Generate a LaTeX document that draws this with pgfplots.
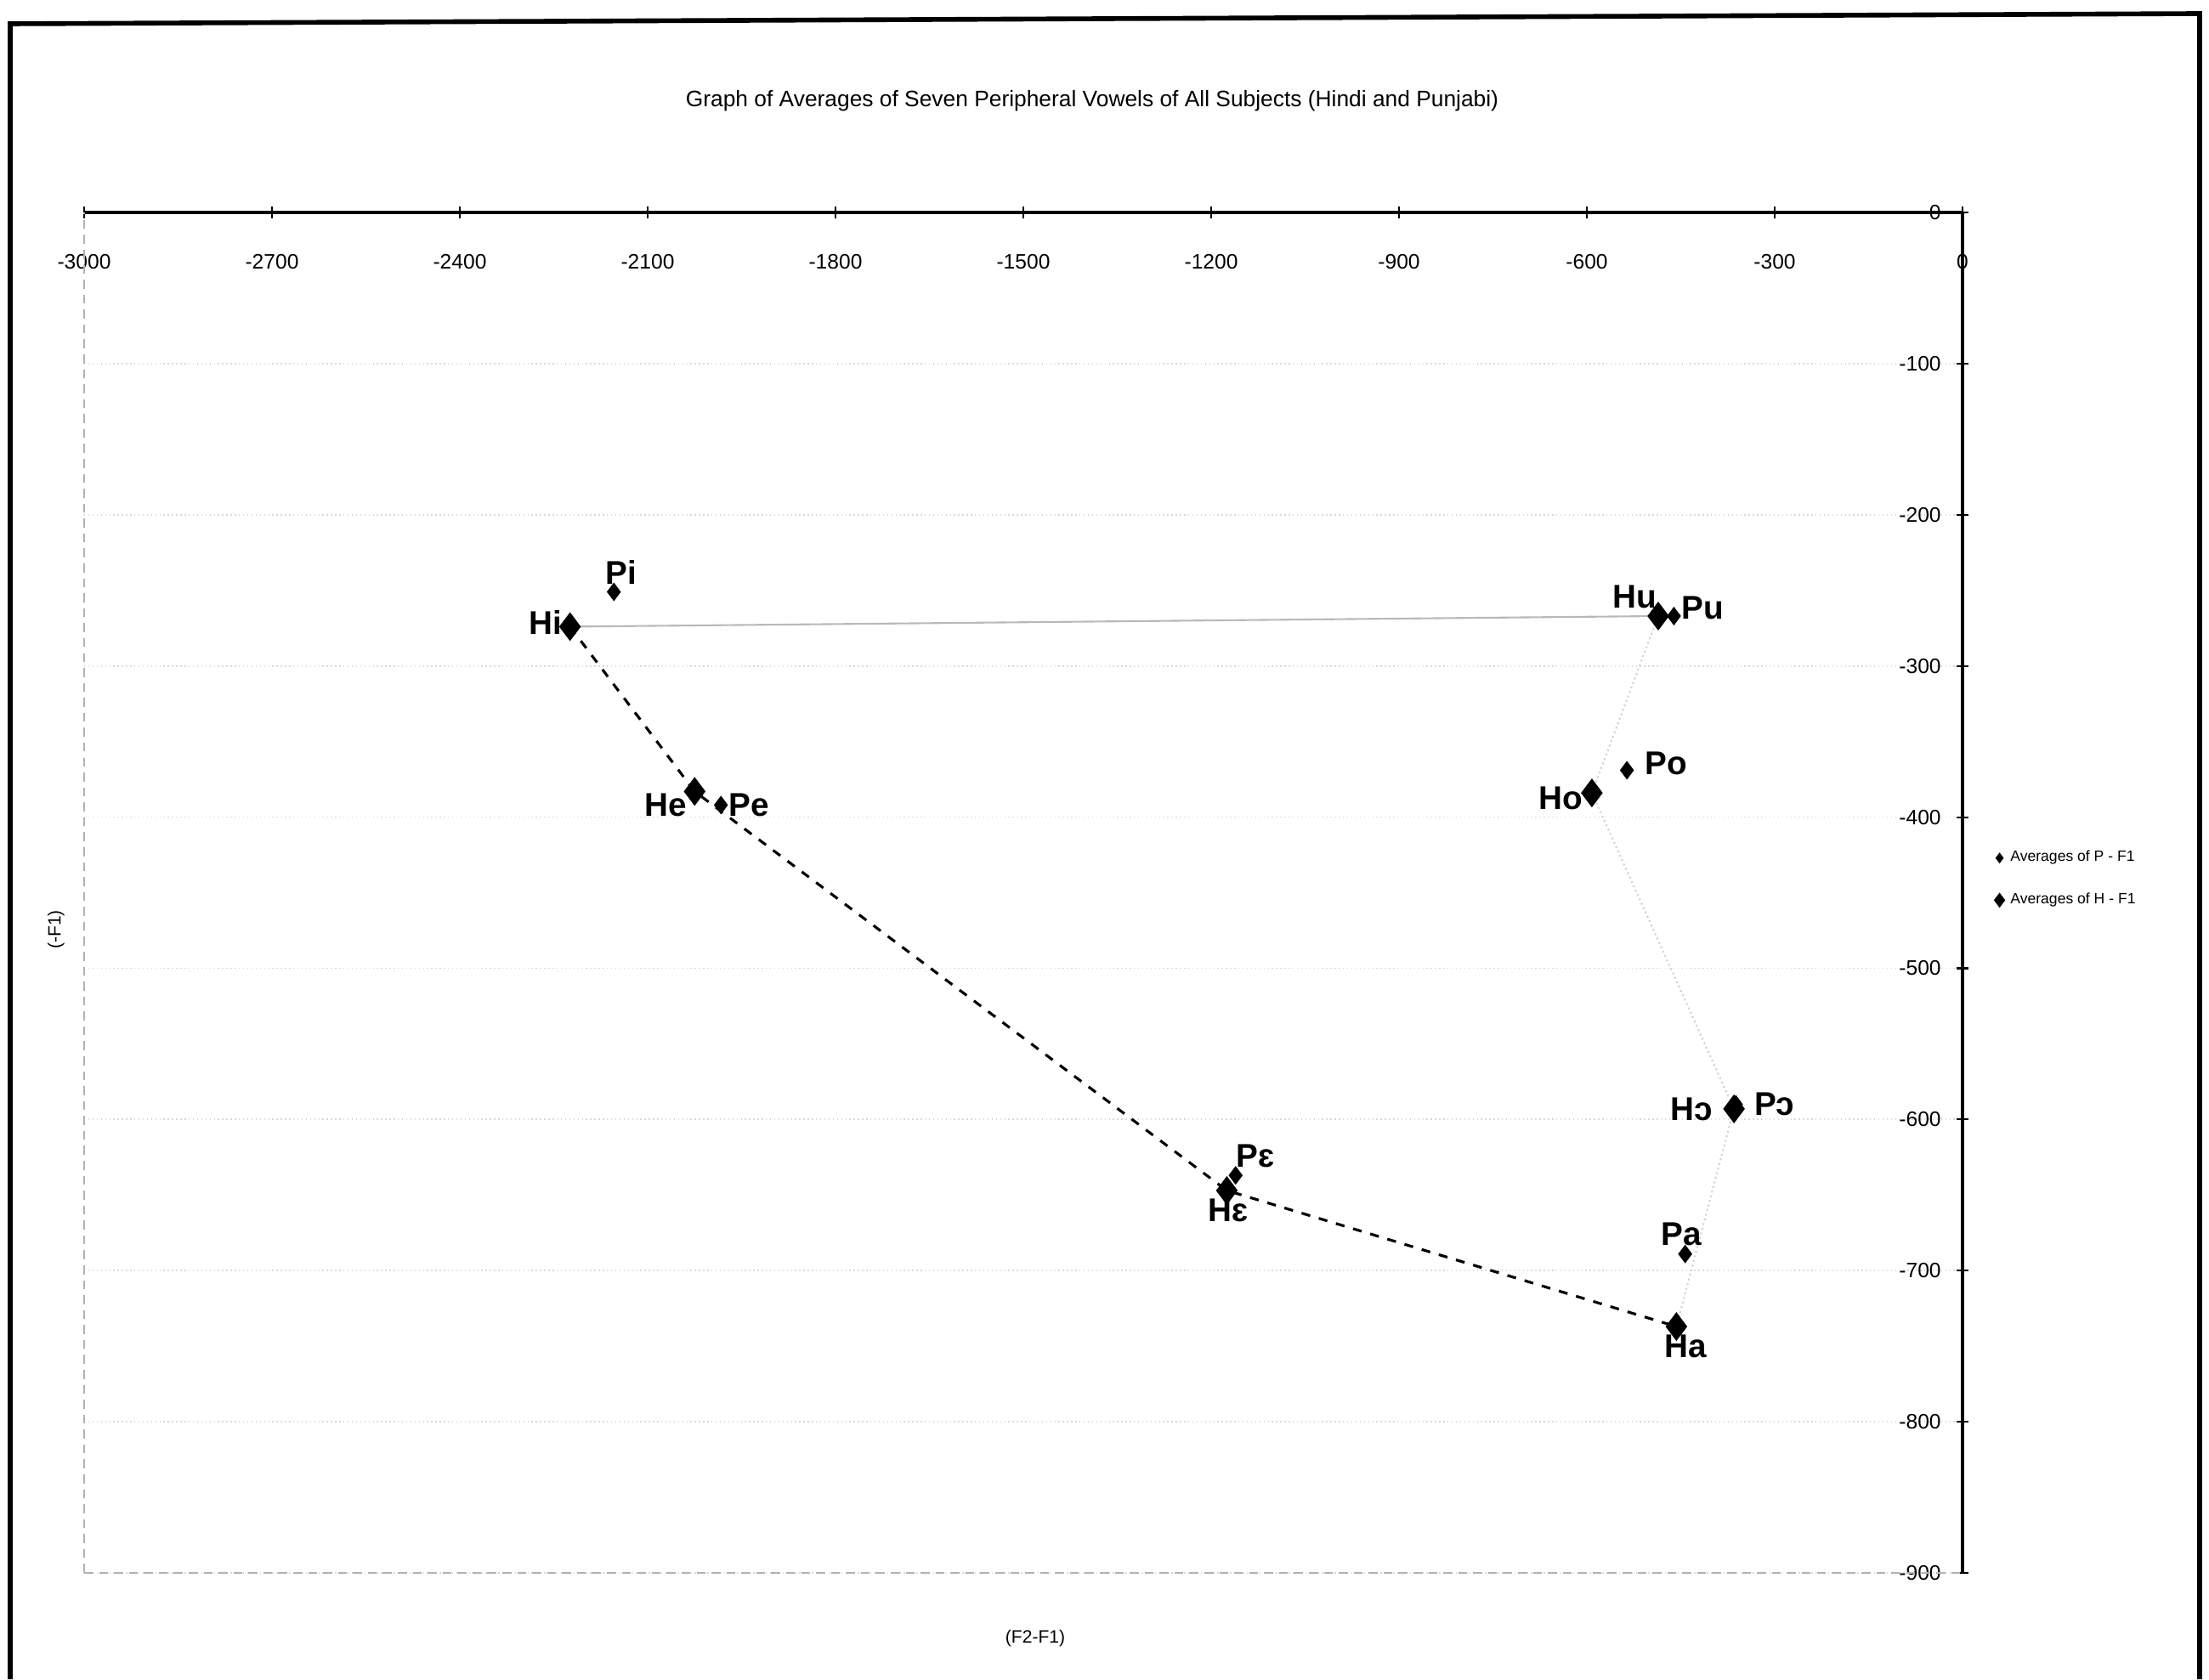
\documentclass[border=0pt]{standalone}
\usepackage{fontspec}
\setmainfont{Liberation Sans}
\usepackage{pgfplots}
\pgfplotsset{compat=1.18}
\begin{document}
\begin{tikzpicture}[x=1cm,y=1cm]
\path[use as bounding box] (0,0) rectangle (25.99,19.76);
\draw[line width=1.6pt] (0.12,0) -- (0.12,19.48) -- (25.88,19.60) -- (25.88,0);
\begin{axis}[
  at={(0.99cm,1.25cm)}, anchor=south west,
  width=22.1cm, height=16.01cm, scale only axis,
  xmin=-3000, xmax=0, ymin=-900, ymax=0,
  axis x line*=top, axis y line*=right,
  axis line style={-, line width=1pt},
  xtick={-3000,-2700,...,0}, ytick={-900,-800,...,0},
  /pgf/number format/1000 sep={},
  /pgf/number format/assume math mode=true,
  tick style={black, line width=0.6pt},
  major tick length=4pt,
  tick align=center,
  xticklabel style={anchor=center, yshift=-0.65cm, font=\fontsize{7}{8}\selectfont},
  yticklabel style={anchor=east, xshift=-0.2cm, font=\fontsize{7}{8}\selectfont},
  ymajorgrids, grid style={gray!30, densely dotted, line width=0.5pt},
  clip=false,
  legend style={at={(1.012,0.51)}, anchor=west, draw=none, fill=none,
    font=\fontsize{5}{6}\selectfont, row sep=5pt},
  legend cell align=left,
  nodes near coords style={font=\fontsize{11}{13}\selectfont\bfseries, inner sep=\sep pt, anchor=\anc},
]
\draw[gray!60, densely dashed, line width=0.6pt] (rel axis cs:0,0) -- (rel axis cs:0,1);
\draw[gray!60, densely dashed, line width=0.6pt] (rel axis cs:0,0) -- (rel axis cs:1,0);
% Hindi quadrilateral
\addplot[black, dashed, line width=0.9pt, forget plot] coordinates
  {(-2224,-274) (-2025,-383) (-1175,-647) (-457,-737)};
\addplot[gray!35, densely dotted, line width=0.6pt, forget plot] coordinates
  {(-457,-737) (-365,-593) (-592,-384) (-486,-267)};
\addplot[gray!55, line width=0.6pt, forget plot] coordinates
  {(-486,-267) (-2224,-274)};
% Punjabi averages
\addplot[only marks, mark=diamond*, mark size=2.8pt, black,
  point meta=explicit symbolic, nodes near coords,
  visualization depends on={value \thisrow{anc} \as \anc},
  visualization depends on={value \thisrow{sep} \as \sep},
  legend image code/.code={\draw[black, mark=diamond*, mark size=1.5pt] plot coordinates {(0.15cm,0cm)};}]
  table[x=x, y=y, meta=lab] {
x y lab anc sep
-2154 -251 Pi 250 2.5
-1983 -392 Pe 180 2.5
-1161 -637 Pɛ 225 2.5
-443 -689 Pa 280 2.5
-362 -590 Pɔ 180 6
-536 -369 Po 190 6
-461 -267 Pu 195 2.5
};
\addlegendentry{Averages of P - F1}
% Hindi averages
\addplot[only marks, mark=diamond*, mark size=4.5pt, black,
  point meta=explicit symbolic, nodes near coords,
  visualization depends on={value \thisrow{anc} \as \anc},
  visualization depends on={value \thisrow{sep} \as \sep},
  legend image code/.code={\draw[black, mark=diamond*, mark size=2.2pt] plot coordinates {(0.15cm,0cm)};}]
  table[x=x, y=y, meta=lab] {
x y lab anc sep
-2224 -274 Hi 350 2.5
-2025 -383 He 25 2.5
-1175 -647 Hɛ 95 2.5
-457 -737 Ha 115 2.5
-365 -593 Hɔ 0 7
-592 -384 Ho 10 3
-486 -267 Hu 320 2.5
};
\addlegendentry{Averages of H - F1}
\end{axis}
\node[font=\fontsize{7.5}{9}\selectfont] at (12.85,18.57) {Graph of Averages of Seven Peripheral Vowels of All Subjects (Hindi and Punjabi)};
\node[font=\fontsize{6}{7}\selectfont] at (12.18,0.48) {(F2-F1)};
\node[font=\fontsize{6}{7}\selectfont, rotate=90] at (0.66,8.82) {(-F1)};
\end{tikzpicture}
\end{document}
